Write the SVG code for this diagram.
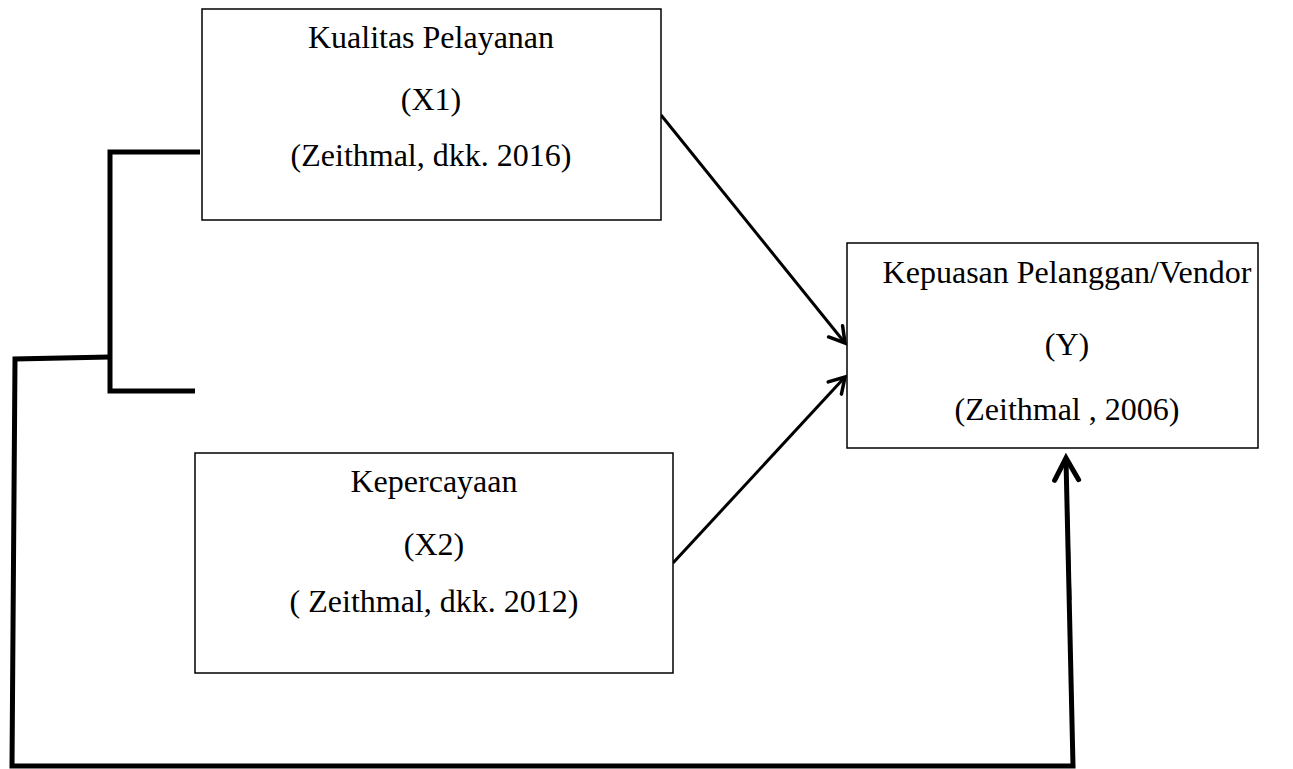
<svg xmlns="http://www.w3.org/2000/svg" width="1293" height="769" viewBox="0 0 1293 769">
<style>
.box{fill:#fff;stroke:#000;stroke-width:1.5}
.t{font-family:"Liberation Serif","Times New Roman",serif;font-size:32px;fill:#000;text-anchor:middle}
.thick{fill:none;stroke:#000;stroke-width:5;stroke-linejoin:miter}
.arr{fill:none;stroke:#000;stroke-width:3}
</style>
<defs>
<marker id="ah" markerUnits="userSpaceOnUse" markerWidth="40" markerHeight="40" refX="0" refY="0" viewBox="-20 -20 40 40" orient="auto" overflow="visible">
<path d="M-15,-9 L0,0 L-15,9" fill="none" stroke="#000" stroke-width="3.5" stroke-linecap="round" stroke-linejoin="miter"/>
</marker>
<marker id="ahb" markerUnits="userSpaceOnUse" markerWidth="40" markerHeight="40" refX="0" refY="0" viewBox="-30 -20 40 40" orient="auto" overflow="visible">
<path d="M-22,-12 L0,0 L-22,12" fill="none" stroke="#000" stroke-width="5" stroke-linecap="round" stroke-linejoin="miter"/>
</marker>
</defs>
<g id="connectors">
<path class="thick" d="M200,152 L110,152 L110,391 L195,391"/>
<path class="thick" d="M110,357 L15,359 L12,766 L1073,766 L1066,460"/>
<line class="arr" x1="1070" y1="600" x2="1066" y2="458" stroke-width="0" marker-end="url(#ahb)"/>
<line class="arr" x1="661" y1="115" x2="845" y2="343" marker-end="url(#ah)"/>
<line class="arr" x1="673" y1="563" x2="845" y2="377" marker-end="url(#ah)"/>
</g>
<g id="node-x1">
<rect class="box" x="202" y="9" width="459" height="211"/>
<text class="t" x="431" y="48">Kualitas Pelayanan</text>
<text class="t" x="431" y="110">(X1)</text>
<text class="t" x="431" y="166">(Zeithmal, dkk. 2016)</text>
</g>
<g id="node-x2">
<rect class="box" x="195" y="453" width="478" height="220"/>
<text class="t" x="434" y="492">Kepercayaan</text>
<text class="t" x="434" y="555">(X2)</text>
<text class="t" x="434" y="612">( Zeithmal, dkk. 2012)</text>
</g>
<g id="node-y">
<rect class="box" x="847" y="243" width="411" height="205"/>
<text class="t" x="1067" y="283">Kepuasan Pelanggan/Vendor</text>
<text class="t" x="1067" y="355">(Y)</text>
<text class="t" x="1067" y="420">(Zeithmal , 2006)</text>
</g>
</svg>
